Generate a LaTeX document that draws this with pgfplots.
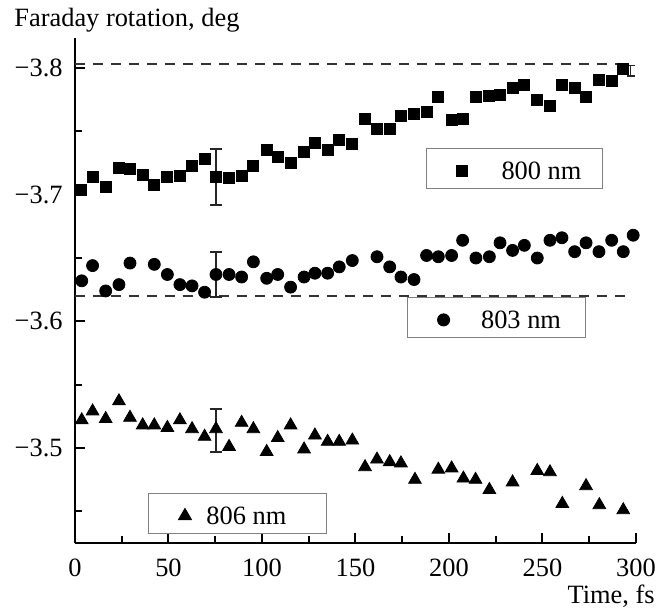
\documentclass[border=0pt]{standalone}
\usepackage{fontspec}
\setmainfont{Liberation Serif}
\usepackage{pgfplots}
\pgfplotsset{compat=1.18}
\newcommand\fs{\fontsize{13.2}{15.8}\selectfont}

\pgfplotsset{
  base/.style={
    scale only axis, width=280.5pt, height=252.5pt,
    at={(37.5pt,34.5pt)}, anchor=south west,
    xmin=0, xmax=300, ymin=-3.8237, ymax=-3.425, y dir=reverse,
    font=\fs,
  },
  lg/.style={legend style={inner xsep=0pt, inner ysep=4.3pt, draw=black!50,
      line width=0.5pt, fill=white, anchor=north west, font=\fs,
      nodes={inner sep=0pt, text depth=0pt}}},
  eb/.style={black, mark=none, forget plot,
      error bars/.cd, y dir=both, y explicit,
      error bar style={line width=0.9pt, black!85},
      error mark options={black!85, line width=0.9pt, mark size=#1, rotate=90}},
  eb/.default=3pt,
}

\begin{document}
\begin{tikzpicture}[font=\fs]
\useasboundingbox (0,0) rectangle (333pt,306pt);

% ---- 800 nm, axes, dashed references ----
\begin{axis}[base, lg,
  axis x line=bottom, axis y line=left,
  axis line style={-, line width=1pt, black},
  tick align=inside, major tick length=5pt, minor tick length=3.5pt,
  major tick style={line width=1pt, black}, minor tick style={line width=1pt, black},
  xtick={0,50,100,150,200,250,300}, xticklabels={0,50,100,150,200,250,300},
  minor xtick={25,75,125,175,225,275},
  ytick={-3.8,-3.7,-3.6,-3.5}, yticklabels={−3.8,−3.7,−3.6,−3.5},
  minor ytick={-3.75,-3.65,-3.55,-3.45},
  xticklabel style={anchor=north, inner sep=0pt, yshift=-8pt},
  yticklabel style={anchor=east, inner sep=0pt, xshift=-6pt},
  xlabel={Time, fs},
  xlabel style={at={(axis description cs:1,0)}, anchor=base east, inner sep=0pt, xshift=9.5pt, yshift=-30pt},
  ylabel={Faraday rotation, deg},
  ylabel style={at={(axis description cs:0,1)}, rotate=-90, anchor=base west, inner sep=0pt, xshift=-30.5pt, yshift=6pt},
  legend style={at={(0.6257,0.7822)}},
  legend image code/.code={\path (-17.5pt,-2.75pt) (19.5pt,6.65pt); \draw[#1] plot coordinates {(0pt,0pt)};},
]
\addplot[black!80, line width=1.1pt, dash pattern=on 5pt off 4pt, forget plot]
  coordinates {(0,-3.803) (291,-3.803)};
\addplot[black!80, line width=1.1pt, dash pattern=on 5pt off 4pt, forget plot]
  coordinates {(0,-3.620) (296.8,-3.620)};
\addplot[eb] coordinates {(75.4,-3.714) +- (0,0.022)};
\addplot[eb=2pt] coordinates {(297.1,-3.798) +- (0,0.004)};
\addplot[only marks, mark=square*, mark size=2.75pt, black] coordinates {
(3.2,-3.704) (9.4,-3.714) (16.4,-3.706) (23.5,-3.721) (29.4,-3.720)
(36.2,-3.716) (42.4,-3.708) (49.4,-3.714) (56.1,-3.715) (62.6,-3.723)
(69.3,-3.728) (75.4,-3.714) (82.4,-3.713) (89.1,-3.715) (95.4,-3.723)
(102.5,-3.735) (108.4,-3.730) (115.3,-3.725) (122.5,-3.734) (128.3,-3.741)
(135.1,-3.735) (141.3,-3.743) (148.3,-3.740) (155.1,-3.760) (161.5,-3.752)
(168.3,-3.752) (174.3,-3.762) (181.3,-3.764) (188.0,-3.765) (194.3,-3.777)
(201.4,-3.759) (207.3,-3.760) (214.4,-3.777) (221.6,-3.778) (227.3,-3.779)
(234.0,-3.784) (240.3,-3.787) (247.2,-3.775) (254.0,-3.770) (260.4,-3.787)
(267.2,-3.784) (273.3,-3.777) (280.2,-3.791) (287.0,-3.790) (292.9,-3.799)
};
\addlegendentry{800 nm\hspace*{10.5pt}}
\end{axis}

% ---- 803 nm ----
\begin{axis}[base, lg, hide axis,
  legend style={at={(0.5918,0.4871)}},
  legend image code/.code={\path (-17.8pt,-2.75pt) (18.5pt,6.65pt); \draw[#1] plot coordinates {(0pt,0pt)};},
]
\addplot[eb] coordinates {(75.4,-3.637) +- (0,0.018)};
\addplot[only marks, mark=*, mark size=3pt, black] coordinates {
(3.6,-3.632) (9.4,-3.644) (16.4,-3.624) (23.5,-3.629) (29.4,-3.646)
(42.4,-3.645) (49.4,-3.637) (56.1,-3.629) (62.6,-3.628) (69.3,-3.623)
(75.4,-3.637) (82.4,-3.637) (89.1,-3.635) (95.4,-3.647) (102.5,-3.634)
(108.4,-3.637) (115.3,-3.627) (122.5,-3.635) (128.3,-3.638) (135.1,-3.638)
(141.3,-3.643) (148.3,-3.648) (161.5,-3.651) (168.3,-3.643) (174.3,-3.635)
(181.3,-3.633) (188.0,-3.652) (194.3,-3.651) (201.4,-3.652) (207.3,-3.664)
(214.4,-3.650) (221.6,-3.651) (227.3,-3.662) (234.0,-3.656) (240.3,-3.660)
(247.2,-3.650) (254.0,-3.664) (260.4,-3.666) (267.2,-3.655) (273.3,-3.662)
(280.2,-3.655) (287.0,-3.664) (293.2,-3.655) (298.5,-3.668)
};
\addlegendentry{803 nm\hspace*{12pt}}
\end{axis}

% ---- 806 nm ----
\begin{axis}[base, lg, hide axis,
  legend style={at={(0.1301,0.0990)}},
  legend image code/.code={\path (-18pt,-2.75pt) (10.5pt,6.65pt); \draw[#1] plot coordinates {(0pt,0pt)};},
]
\addplot[eb] coordinates {(75.4,-3.514) +- (0,0.017)};
\addplot[only marks, mark=triangle*, mark size=3.67pt, black] coordinates {
(3.6,-3.522) (9.4,-3.529) (16.4,-3.523) (23.5,-3.537) (29.4,-3.524)
(36.2,-3.518) (42.4,-3.518) (49.4,-3.516) (56.1,-3.522) (62.6,-3.515)
(69.3,-3.509) (75.4,-3.515) (82.4,-3.501) (89.1,-3.520) (95.4,-3.515)
(102.5,-3.497) (108.4,-3.508) (115.3,-3.518) (122.5,-3.499) (128.3,-3.510)
(135.1,-3.505) (141.3,-3.505) (148.3,-3.506) (155.1,-3.485) (161.5,-3.491)
(168.3,-3.489) (174.3,-3.488) (181.8,-3.475) (194.3,-3.483) (201.4,-3.484)
(207.7,-3.476) (214.2,-3.475) (221.6,-3.467) (234.0,-3.473) (247.2,-3.482)
(254.0,-3.481) (260.6,-3.456) (273.3,-3.470) (280.4,-3.455) (293.2,-3.451)
};
\addlegendentry{806 nm\hspace*{20pt}}
\end{axis}
\end{tikzpicture}
\end{document}
